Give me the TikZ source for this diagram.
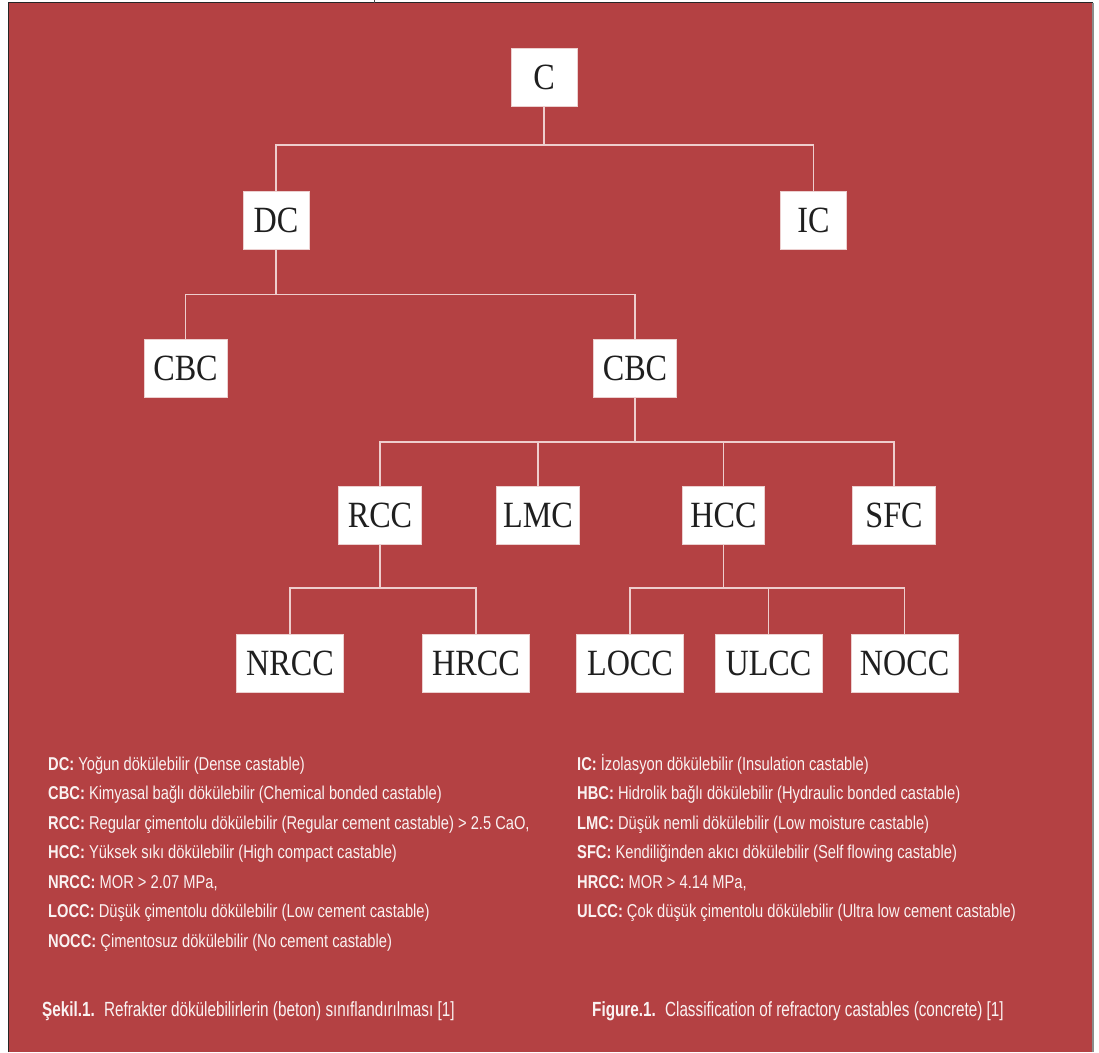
\documentclass[tikz,border=0pt]{standalone}
\usepackage{fontspec}
\newfontfamily\boxfont[FakeStretch=0.87]{Liberation Serif}
\newfontfamily\legfont[FakeStretch=0.79]{Liberation Sans}
\newfontfamily\captfont[FakeStretch=0.745]{Liberation Sans}
\definecolor{bgred}{RGB}{180,65,67}
\definecolor{linepink}{RGB}{238,205,205}
\definecolor{boxline}{RGB}{236,208,208}
\definecolor{legtext}{RGB}{250,242,242}
\begin{document}
\begin{tikzpicture}[x=1pt,y=-1pt,
  box/.style={draw=boxline, line width=0.8pt, fill=white, inner sep=0pt,
    minimum height=58pt, font=\boxfont\fontsize{37}{40}\selectfont, text=black!88},
  sbox/.style={box, minimum width=66pt},
  mbox/.style={box, minimum width=82.5pt},
  lbox/.style={box, minimum width=107pt},
  conn/.style={draw=linepink, line width=1.1pt},
  leg/.style={anchor=base west, inner sep=0pt, text=legtext,
    font=\legfont\fontsize{18.6}{22}\selectfont},
  capt/.style={leg, font=\captfont\fontsize{20.5}{24}\selectfont}]
\useasboundingbox (0,0) rectangle (1099,1052);
\fill[white] (0,0) rectangle (1099,1052);
\fill[bgred] (8.5,2.5) rectangle (1093,1052);
\draw[black!85, line width=1pt] (8.5,1052) -- (8.5,2.5) -- (1093,2.5);
\draw[black!45, line width=1.2pt] (1093,2.5) -- (1093,1052);
\draw[black!70, line width=0.8pt] (374,0) -- (374,2.5);

% tree nodes
\node[sbox] (C)  at (544,77) {C};
\node[sbox] (DC) at (276,220.5) {DC};
\node[sbox] (IC) at (813.5,220.5) {IC};
\node[box, minimum width=83pt] (CBCa) at (185.5,368) {CBC};
\node[box, minimum width=83pt] (CBCb) at (635,368) {CBC};
\node[mbox] (RCC) at (380,515.5) {RCC};
\node[mbox] (LMC) at (538,515.5) {LMC};
\node[mbox] (HCC) at (723.5,515.5) {HCC};
\node[mbox] (SFC) at (894,515.5) {SFC};
\node[lbox] (NRCC) at (290,663.3) {NRCC};
\node[lbox] (HRCC) at (476,663.3) {HRCC};
\node[lbox] (LOCC) at (630,663.3) {LOCC};
\node[lbox] (ULCC) at (768.5,663.3) {ULCC};
\node[lbox] (NOCC) at (904.7,663.3) {NOCC};

% connectors
\draw[conn] (C.south) -- (C.south |- 0,145);
\draw[conn] (DC.north) |- (IC.north |- 0,145) -- (IC.north);
\draw[conn] (DC.south) -- (DC.south |- 0,294.5);
\draw[conn] (CBCa.north) |- (CBCb.north |- 0,294.5) -- (CBCb.north);
\draw[conn] (CBCb.south) -- (CBCb.south |- 0,442);
\draw[conn] (RCC.north) |- (SFC.north |- 0,442) -- (SFC.north);
\draw[conn] (LMC.north) -- (LMC.north |- 0,442);
\draw[conn] (HCC.north) -- (HCC.north |- 0,442);
\draw[conn] (RCC.south) -- (RCC.south |- 0,588);
\draw[conn] (NRCC.north) |- (HRCC.north |- 0,588) -- (HRCC.north);
\draw[conn] (HCC.south) -- (HCC.south |- 0,588);
\draw[conn] (LOCC.north) |- (NOCC.north |- 0,588) -- (NOCC.north);
\draw[conn] (ULCC.north) -- (ULCC.north |- 0,588);

% legend left
\node[leg] (L1) at (48,770)   {\textbf{DC:} Yoğun dökülebilir (Dense castable)};
\node[leg] (L2) at (48,799.5) {\textbf{CBC:} Kimyasal bağlı dökülebilir (Chemical bonded castable)};
\node[leg] (L3) at (48,829)   {\textbf{RCC:} Regular çimentolu dökülebilir (Regular cement castable) > 2.5 CaO,};
\node[leg] (L4) at (48,858.5) {\textbf{HCC:} Yüksek sıkı dökülebilir (High compact castable)};
\node[leg] (L5) at (48,888)   {\textbf{NRCC:} MOR > 2.07 MPa,};
\node[leg] (L6) at (48,917.5) {\textbf{LOCC:} Düşük çimentolu dökülebilir (Low cement castable)};
\node[leg] (L7) at (48,947)   {\textbf{NOCC:} Çimentosuz dökülebilir (No cement castable)};
% legend right
\node[leg] (R1) at (577,770)   {\textbf{IC:} İzolasyon dökülebilir (Insulation castable)};
\node[leg] (R2) at (577,799.5) {\textbf{HBC:} Hidrolik bağlı dökülebilir (Hydraulic bonded castable)};
\node[leg] (R3) at (577,829)   {\textbf{LMC:} Düşük nemli dökülebilir (Low moisture castable)};
\node[leg] (R4) at (577,858.5) {\textbf{SFC:} Kendiliğinden akıcı dökülebilir (Self flowing castable)};
\node[leg] (R5) at (577,888)   {\textbf{HRCC:} MOR > 4.14 MPa,};
\node[leg] (R6) at (577,917.5) {\textbf{ULCC:} Çok düşük çimentolu dökülebilir (Ultra low cement castable)};
% captions
\node[capt] (capL) at (42,1016) {\textbf{Şekil.1.}\hspace{0.45em}Refrakter dökülebilirlerin (beton) sınıflandırılması [1]};
\node[capt] (capR) at (592,1016) {\textbf{Figure.1.}\hspace{0.45em}Classification of refractory castables (concrete) [1]};
\end{tikzpicture}
\end{document}
